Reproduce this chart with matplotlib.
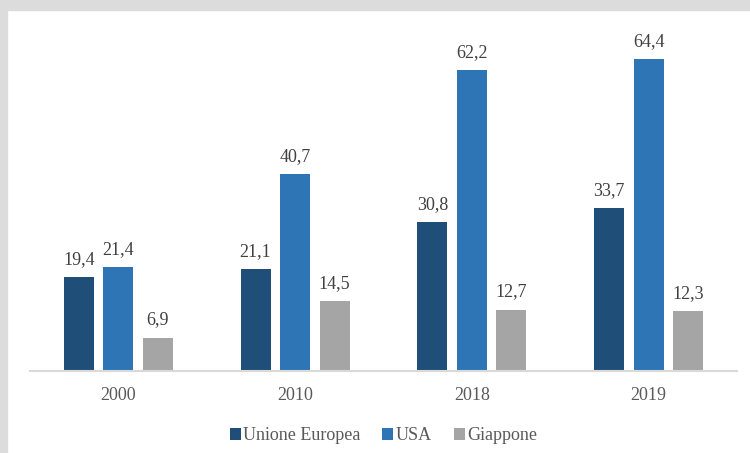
import numpy as np
import matplotlib.pyplot as plt
from matplotlib.patches import Rectangle

years = ["2000", "2010", "2018", "2019"]
serie = ["Unione Europea", "USA", "Giappone"]
ue = [19.4, 21.1, 30.8, 33.7]
usa = [21.4, 40.7, 62.2, 64.4]
giappone = [6.9, 14.5, 12.7, 12.3]
colori = ["#1f4e79", "#2e75b6", "#a5a5a5"]

plt.rcParams['font.family'] = ['Liberation Serif', 'DejaVu Serif']

fig = plt.figure(figsize=(7.5, 4.53), dpi=100)
fig.patch.set_facecolor("white")
# bordo grigio in alto e a sinistra
fig.patches.append(Rectangle((0, 1 - 10 / 453), 1, 10 / 453, transform=fig.transFigure,
                             color="#dcdcdc", zorder=0))
fig.patches.append(Rectangle((0, 0), 7 / 750, 1, transform=fig.transFigure,
                             color="#dcdcdc", zorder=0))

ax = fig.add_axes([30 / 750, 82 / 453, 707 / 750, 338 / 453])
x = np.arange(len(years))
w = 0.17
step = 0.2235
for i, (vals, nome) in enumerate(zip([ue, usa, giappone], serie)):
    pos = x + (i - 1) * step
    bars = ax.bar(pos, vals, w, color=colori[i], label=nome, zorder=2)
    for b, v in zip(bars, vals):
        ax.annotate(f"{v:.1f}".replace(".", ","), (b.get_x() + b.get_width() / 2, v),
                    xytext=(0, 9.4), textcoords="offset points", ha="center",
                    va="baseline", fontsize=13, color="#404040")

ax.set_xlim(-0.5, 3.5)
ax.set_ylim(0, 69.8)
ax.set_xticks(x)
ax.set_xticklabels(years, fontsize=13, color="#595959")
ax.tick_params(axis="x", length=0, pad=11.5)
ax.set_yticks([])
for s in ["top", "left", "right"]:
    ax.spines[s].set_visible(False)
ax.spines["bottom"].set_color("#d9d9d9")
ax.spines["bottom"].set_linewidth(1.5)

ax.legend(loc="center", bbox_to_anchor=(0.5, -0.192), ncol=3, frameon=False,
          fontsize=13, handlelength=0.6, handleheight=0.6, handletextpad=0.15,
          columnspacing=1.2, labelcolor="#595959")

fig.savefig("out.png", dpi=100)
